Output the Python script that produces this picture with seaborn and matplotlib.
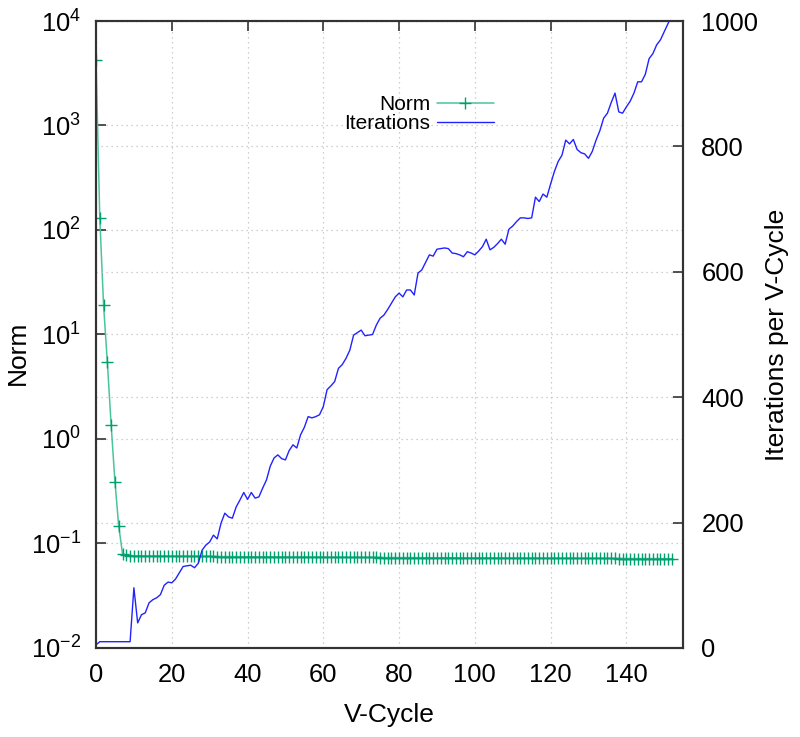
import numpy as np
import pandas as pd
import matplotlib
matplotlib.use("Agg")
import matplotlib.pyplot as plt
import seaborn as sns

# V-Cycle index
vcycle = list(range(153))

# residual norm per V-cycle (left axis, log scale)
norm = [
    4250, 130, 19, 5.4, 1.36, 0.39, 0.146, 0.080, 0.077, 0.0765,
    0.0762, 0.0761, 0.0760, 0.0760, 0.0759, 0.0759, 0.0758, 0.0758, 0.0757, 0.0757,
    0.0756, 0.0756, 0.0755, 0.0755, 0.0754, 0.0754, 0.0753, 0.0753, 0.0752, 0.0752,
    0.0751, 0.0751, 0.0750, 0.0750, 0.0749, 0.0749, 0.0748, 0.0748, 0.0747, 0.0747,
    0.0746, 0.0746, 0.0745, 0.0745, 0.0745, 0.0744, 0.0744, 0.0744, 0.0743, 0.0743,
    0.0743, 0.0742, 0.0742, 0.0742, 0.0741, 0.0741, 0.0741, 0.0740, 0.0740, 0.0740,
    0.0739, 0.0739, 0.0739, 0.0738, 0.0738, 0.0738, 0.0737, 0.0737, 0.0737, 0.0736,
    0.0736, 0.0736, 0.0735, 0.0735, 0.0735, 0.0734, 0.0734, 0.0734, 0.0733, 0.0733,
    0.0733, 0.0733, 0.0732, 0.0732, 0.0732, 0.0732, 0.0731, 0.0731, 0.0731, 0.0731,
    0.0730, 0.0730, 0.0730, 0.0730, 0.0729, 0.0729, 0.0729, 0.0729, 0.0728, 0.0728,
    0.0728, 0.0728, 0.0727, 0.0727, 0.0727, 0.0727, 0.0726, 0.0726, 0.0726, 0.0726,
    0.0725, 0.0725, 0.0725, 0.0725, 0.0724, 0.0724, 0.0724, 0.0724, 0.0723, 0.0723,
    0.0723, 0.0723, 0.0722, 0.0722, 0.0722, 0.0722, 0.0721, 0.0721, 0.0721, 0.0721,
    0.0720, 0.0720, 0.0720, 0.0720, 0.0719, 0.0719, 0.0719, 0.0719, 0.0718, 0.0718,
    0.0718, 0.0718, 0.0717, 0.0717, 0.0717, 0.0717, 0.0716, 0.0716, 0.0716, 0.0716,
    0.0715, 0.0715, 0.0715,
]

# smoother iterations per V-cycle (right axis)
iterations = [
    5, 10, 10, 10, 10, 10, 10, 10, 10, 10,
    96, 40, 53, 56, 72, 77, 80, 85, 100, 105,
    104, 110, 120, 130, 131, 132, 128, 135, 156, 164,
    169, 180, 174, 199, 215, 209, 207, 225, 236, 248,
    237, 248, 239, 241, 255, 268, 290, 303, 308, 302,
    300, 315, 324, 319, 340, 352, 369, 367, 369, 372,
    385, 412, 418, 425, 446, 452, 462, 475, 499, 503,
    507, 498, 499, 500, 515, 526, 531, 540, 550, 560,
    566, 560, 571, 571, 563, 598, 603, 615, 627, 625,
    636, 637, 638, 637, 630, 629, 627, 624, 632, 630,
    627, 633, 640, 652, 635, 639, 645, 652, 644, 668,
    673, 680, 686, 686, 685, 686, 719, 712, 724, 719,
    740, 760, 776, 786, 810, 804, 811, 795, 790, 788,
    781, 792, 810, 825, 845, 853, 870, 885, 855, 853,
    863, 872, 885, 903, 903, 915, 940, 948, 962, 970,
    983, 996, 1008,
]

df = pd.DataFrame({"V-Cycle": vcycle, "Norm": norm, "Iterations": iterations})

sns.set_style("white")
plt.rcParams["font.family"] = ["Liberation Sans", "DejaVu Sans"]
plt.rcParams["mathtext.default"] = "regular"
plt.rcParams["text.color"] = "black"
plt.rcParams["axes.labelcolor"] = "black"
plt.rcParams["xtick.color"] = "black"
plt.rcParams["ytick.color"] = "black"

green_line = "#4cc49a"
green_mark = "#00a070"
blue = "#2222ff"
grid_kw = dict(color="#c0c0c0", linestyle=(0, (1, 3)), linewidth=0.9)

fig, ax = plt.subplots(figsize=(8, 7.37), dpi=100)
fig.subplots_adjust(left=0.12, right=0.854, top=0.9715, bottom=0.1208)
ax2 = ax.twinx()

sns.lineplot(data=df, x="V-Cycle", y="Norm", ax=ax, color=green_line, linewidth=1.1,
             marker="+", markersize=9, markeredgewidth=1.0, markeredgecolor=green_mark,
             label="Norm", legend=False)
sns.lineplot(data=df, x="V-Cycle", y="Iterations", ax=ax2, color=blue, linewidth=1.0,
             label="Iterations", legend=False)

ax.set_yscale("log")
ax.set_ylim(1e-2, 1e4)
ax.set_xlim(0, 155)
ax2.set_ylim(0, 1000)
ax.set_xticks(range(0, 141, 20))
ax2.set_yticks(range(0, 1001, 200))
ax.minorticks_off()

ax.grid(True, which="major", **grid_kw)
ax2.grid(True, axis="y", **grid_kw)
ax.set_axisbelow(True)
ax2.set_axisbelow(True)

tfs = 18.4
lfs = 19
ax.set_xlabel("V-Cycle", fontsize=lfs)
ax.set_ylabel("Norm", fontsize=lfs)
ax2.set_ylabel("Iterations per V-Cycle", fontsize=lfs)
ax.xaxis.set_label_coords(0.5, -0.088)
ax.yaxis.set_label_coords(-0.112, 0.47)
ax2.yaxis.set_label_coords(1.14, 0.5)

ax.tick_params(axis="x", labelsize=tfs, direction="in", length=7, width=1.2,
               color="#333333", top=True, pad=11)
ax.tick_params(axis="y", labelsize=tfs, direction="in", length=7, width=1.2,
               color="#333333", right=False, pad=11)
ax2.tick_params(axis="y", labelsize=tfs, direction="in", length=7, width=1.2,
                color="#333333", pad=13)

for a in (ax, ax2):
    for s in a.spines.values():
        s.set_color("#333333")
        s.set_linewidth(1.5)

h1, l1 = ax.get_legend_handles_labels()
h2, l2 = ax2.get_legend_handles_labels()
ax2.legend(h1 + h2, l1 + l2, loc="upper right", bbox_to_anchor=(0.692, 0.895),
           frameon=False, markerfirst=False, fontsize=15, handlelength=2.75,
           handletextpad=0.3, labelspacing=0.0, borderaxespad=0)

plt.savefig("out.png", dpi=100)
